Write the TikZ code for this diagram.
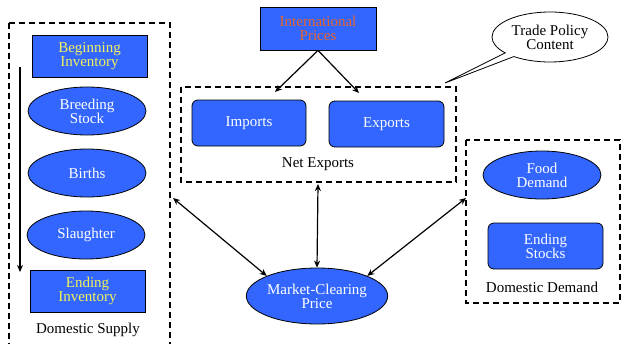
\documentclass[tikz,border=0pt]{standalone}
\usepackage{fontspec}
\setmainfont{Liberation Serif}
\usetikzlibrary{arrows.meta,shapes.geometric,shapes.callouts}
\definecolor{boxblue}{HTML}{3366FF}
\definecolor{txtyellow}{HTML}{F2F25A}
\definecolor{txtorange}{HTML}{E8642A}
\tikzset{
  bluerect/.style={draw=black,line width=0.8pt,fill=boxblue,text=white,align=center,inner sep=0pt,font=\fontsize{15}{14}\selectfont},
  blueell/.style={ellipse,draw=black,line width=0.8pt,fill=boxblue,text=white,align=center,inner sep=0pt,font=\fontsize{15}{14}\selectfont},
  grp/.style={draw=black,line width=1.3pt,dash pattern=on 6pt off 4pt},
  lbl/.style={font=\fontsize{15}{14}\selectfont,text=black},
  arr/.style={line width=1.2pt,-{Stealth[length=7pt,width=6pt]}},
  darr/.style={line width=1.2pt,{Stealth[length=7pt,width=6pt]}-{Stealth[length=7pt,width=6pt]}}
}
\begin{document}
\begin{tikzpicture}[x=1pt,y=-1pt]
\useasboundingbox (0,0) rectangle (626,343);
% group boxes
\draw[grp] (9,23) -- (9,350) (9,23) -- (170,23) -- (170,350);
\draw[grp] (181,87) rectangle (456,182);
\draw[grp] (466,140) rectangle (620,303);
% domestic supply
\node[bluerect,minimum width=115pt,minimum height=42pt,text=txtyellow] (bi) at (89.5,56) {Beginning\\Inventory};
\node[blueell,minimum width=118pt,minimum height=48pt] (bs) at (87,111) {Breeding\\Stock};
\node[blueell,minimum width=118pt,minimum height=48pt] (bir) at (87,173) {Births};
\node[blueell,minimum width=118pt,minimum height=48pt] (sl) at (86,235) {Slaughter};
\node[bluerect,minimum width=115pt,minimum height=42pt,text=txtyellow] (ei) at (87.5,291) {Ending\\Inventory};
\node[lbl] (ds) at (88,330) {Domestic Supply};
\coordinate (vtop) at (20,67);
\coordinate (vbot) at (20,272);
\draw[arr] (vtop) -- (vbot);
% international
\node[bluerect,minimum width=116pt,minimum height=43pt,text=txtorange] (ip) at (318,28.5) {International\\Prices};
\node[bluerect,rounded corners=6pt,minimum width=114pt,minimum height=46pt] (im) at (249,123) {Imports};
\node[bluerect,rounded corners=6pt,minimum width=115pt,minimum height=46pt] (ex) at (386.5,124) {Exports};
\node[lbl] (ne) at (318,164) {Net Exports};
\coordinate (imt) at (275,92);
\coordinate (ext) at (359,93);
\draw[arr] (ip.south) -- (imt);
\draw[arr] (ip.south) -- (ext);
% market clearing
\node[blueell,minimum width=140pt,minimum height=56pt] (mc) at (317,296) {Market-Clearing\\Price};
\coordinate (neb) at (318,184);
\coordinate (dsr) at (173,198);
\coordinate (ddl) at (466,198);
\draw[darr] (neb) -- (mc.north);
\draw[darr] (dsr) -- (mc.north west);
\draw[darr] (ddl) -- (mc.north east);
% domestic demand
\node[blueell,minimum width=118pt,minimum height=48pt] (fd) at (542,175) {Food\\Demand};
\node[bluerect,rounded corners=6pt,minimum width=115pt,minimum height=46pt] (es) at (545.5,246) {Ending\\Stocks};
\node[lbl] (dd) at (542,287) {Domestic Demand};
% callout
\node[ellipse callout,draw=black,line width=0.8pt,fill=white,minimum width=116pt,minimum height=50pt,inner sep=0pt,align=center,callout absolute pointer={(445,83)},callout pointer arc=12,lbl] (tp) at (550,37) {Trade Policy\\Content};
\end{tikzpicture}
\end{document}
